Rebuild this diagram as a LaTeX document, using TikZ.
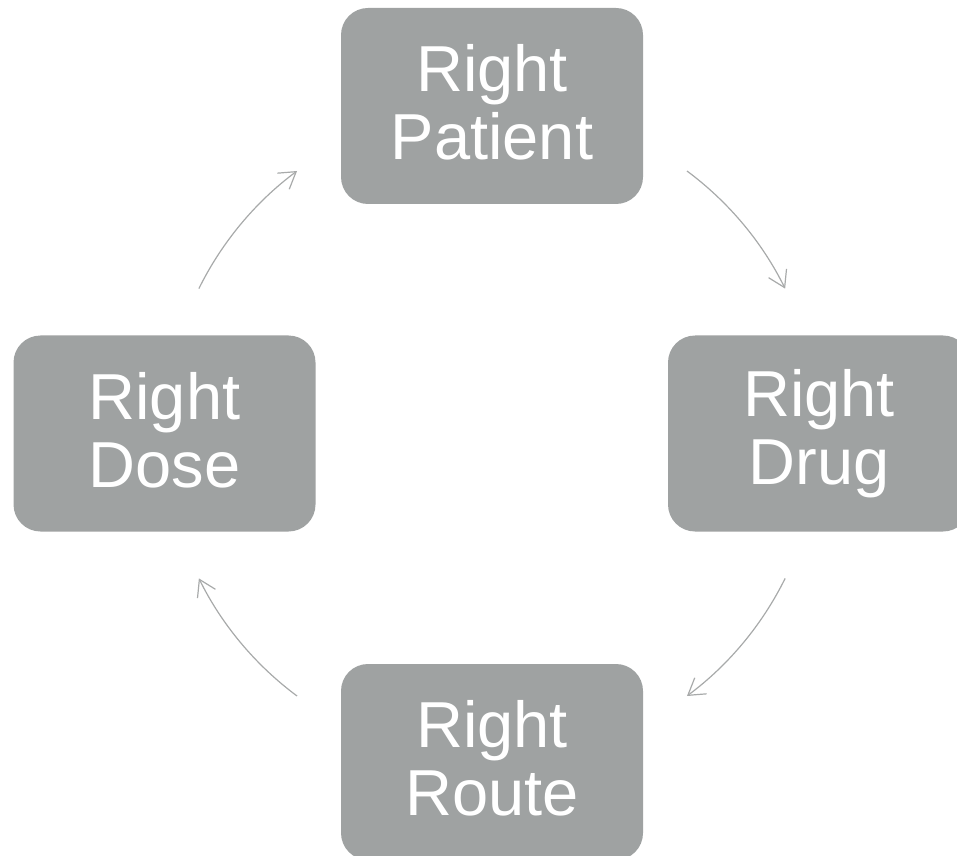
\documentclass[tikz,border=0pt]{standalone}
\usepackage{fontspec}
\setmainfont{Liberation Sans}
\usetikzlibrary{arrows.meta}
\definecolor{boxgray}{RGB}{159,162,162}
\definecolor{arrgray}{RGB}{168,170,170}
\newcommand{\lastdepth}{\rule[-7.5pt]{0pt}{7.5pt}}
\tikzset{
  stepbox/.style={fill=boxgray, draw=none, rounded corners=27pt,
    minimum width=302pt, minimum height=196pt, inner sep=0pt,
    text=white, align=center, font=\fontsize{65}{68}\selectfont},
  cyc/.style={draw=arrgray, line width=1.2pt,
    -{Straight Barb[length=16pt,width=20pt,line width=1.2pt]}}
}
\begin{document}
\begin{tikzpicture}[x=1pt,y=1pt]
\useasboundingbox (0,0) rectangle (957,855);
\clip (0,0) rectangle (957,855);
\coordinate (c) at (492,421.5);
\node[stepbox] (patient) at (492,749) {Right\\Patient\lastdepth};
\node[stepbox] (drug) at (819,421.5) {Right\\Drug\lastdepth};
\node[stepbox] (route) at (492,93) {Right\\Route\lastdepth};
\node[stepbox] (dose) at (164.5,421.5) {Right\\Dose\lastdepth};
\draw[cyc] ([shift={(153.7:327pt)}]c) arc[start angle=153.7,end angle=126.6,radius=327pt];
\draw[cyc] ([shift={(53.4:327pt)}]c) arc[start angle=53.4,end angle=26.3,radius=327pt];
\draw[cyc] ([shift={(-26.3:327pt)}]c) arc[start angle=-26.3,end angle=-53.4,radius=327pt];
\draw[cyc] ([shift={(-126.6:327pt)}]c) arc[start angle=-126.6,end angle=-153.7,radius=327pt];
\end{tikzpicture}
\end{document}
